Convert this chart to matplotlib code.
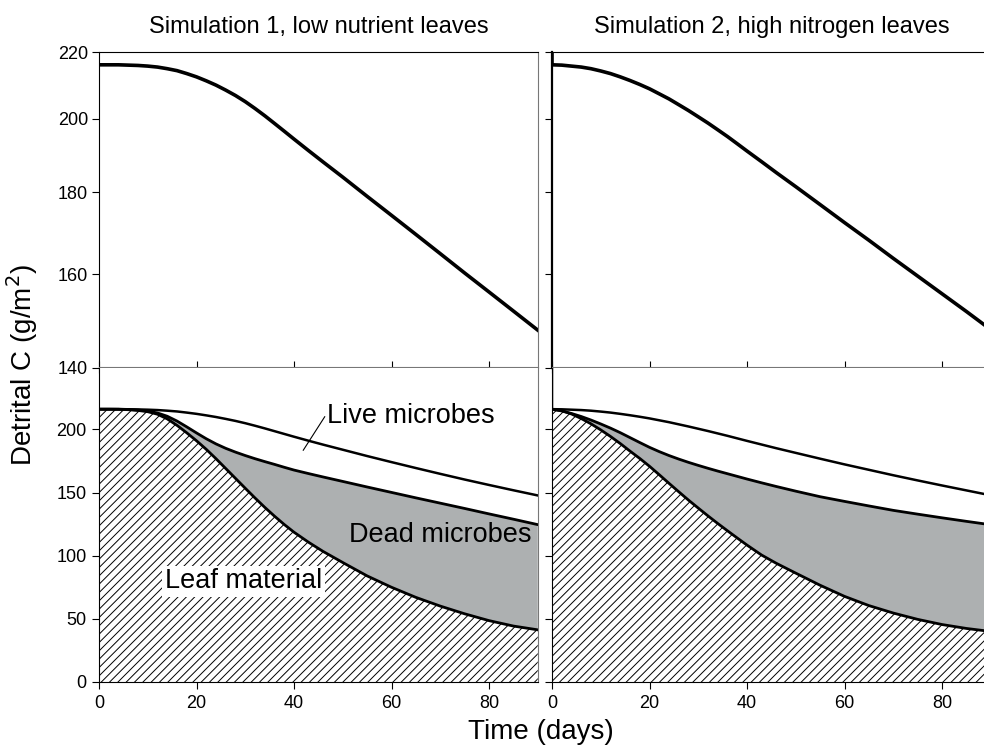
import numpy as np
import matplotlib.pyplot as plt

plt.rcParams['font.family'] = ['Liberation Sans', 'DejaVu Sans']
plt.rcParams['hatch.linewidth'] = 0.7

# --- data (days, g C / m2) ---
time = [0, 2, 4, 6, 8, 10, 12, 14, 16, 18, 20, 22, 24, 26, 28, 30, 32, 34, 36, 38, 40,
        43, 46, 50, 55, 60, 65, 70, 75, 80, 85, 90]

# simulation 1: low nutrient leaves
total1 = [216.0, 216.0, 216.0, 215.9, 215.8, 215.6, 215.3, 214.8, 214.2, 213.3, 212.3,
          211.1, 209.8, 208.3, 206.7, 204.9, 202.9, 200.8, 198.6, 196.4, 194.2,
          191.0, 187.9, 183.9, 178.9, 174.1, 169.4, 164.8, 160.3, 156.0, 151.8, 147.7]
mid1 = [216.0, 216.0, 216.0, 215.8, 215.3, 214.5, 213.0, 210.4, 206.6, 202.0, 197.2,
        192.6, 188.5, 185.0, 182.0, 179.3, 176.8, 174.5, 172.3, 170.0, 167.8,
        165.0, 162.3, 158.8, 154.4, 150.1, 145.8, 141.6, 137.4, 133.1, 128.9, 124.6]
leaf1 = [216.0, 216.0, 215.9, 215.6, 215.0, 214.0, 212.0, 208.3, 203.2, 197.3, 191.0,
         184.2, 176.8, 169.0, 161.2, 153.4, 145.7, 138.3, 131.3, 124.7, 118.6,
         110.6, 103.3, 94.6, 84.0, 75.0, 67.0, 60.1, 54.0, 48.6, 44.3, 41.3]

# simulation 2: high nitrogen leaves
total2 = [216.0, 215.9, 215.6, 215.3, 214.8, 214.1, 213.3, 212.3, 211.2, 210.0, 208.7,
          207.2, 205.7, 204.0, 202.3, 200.5, 198.7, 196.8, 194.9, 192.9, 190.9,
          188.0, 185.1, 181.4, 176.8, 172.3, 168.0, 163.7, 159.6, 155.6, 151.7, 147.8]
mid2 = [216.0, 214.6, 212.6, 210.2, 207.4, 204.3, 201.0, 197.4, 193.5, 189.6, 185.8,
        182.4, 179.3, 176.5, 173.9, 171.5, 169.2, 167.0, 164.9, 162.8, 160.7,
        157.7, 154.8, 151.1, 146.7, 143.0, 139.4, 135.9, 132.9, 130.0, 127.2, 124.5]
leaf2 = [216.0, 214.8, 212.2, 208.6, 204.4, 199.6, 194.4, 188.8, 182.8, 177.0, 170.8,
         164.1, 157.3, 150.6, 144.0, 137.7, 131.5, 125.5, 119.7, 114.0, 108.4,
         100.5, 94.0, 86.2, 76.6, 67.8, 60.5, 54.6, 49.6, 45.5, 42.4, 40.0]
start2 = 260.0  # sim 2 total jumps down from above the axis at t=0

titles = ["Simulation 1, low nutrient leaves", "Simulation 2, high nitrogen leaves"]
top_ticks = [140, 160, 180, 200, 220]
bot_ticks = [0, 50, 100, 150, 200]
x_ticks = [0, 20, 40, 60, 80]

gray = '#adb0b1'

fig = plt.figure(figsize=(9.84, 7.51), dpi=100)
W, H = 984, 751

def box(x0, y0, x1, y1):
    return [x0 / W, 1 - y1 / H, (x1 - x0) / W, (y1 - y0) / H]

lefts = [(99, 537.75), (552, 990.75)]
sims = [(total1, mid1, leaf1), (total2, mid2, leaf2)]
t = np.array(time)

for i, ((xa, xb), (tot, mid, leaf)) in enumerate(zip(lefts, sims)):
    tt, tl = t, np.array(tot)
    if i == 1:
        tt = np.r_[0, t]
        tl = np.r_[start2, tot]

    # top panel, log scale
    ax = fig.add_axes(box(xa, 52, xb, 367.5))
    ax.plot(tt, tl, color='black', lw=2.6)
    ax.set_yscale('log')
    ax.set_ylim(140, 220)
    ax.set_xlim(0, 90)
    ax.yaxis.set_minor_locator(plt.NullLocator())
    ax.set_yticks(top_ticks)
    ax.set_xticks(x_ticks)
    ax.set_xticklabels([])
    if i == 0:
        ax.set_yticklabels([str(v) for v in top_ticks])
    else:
        ax.set_yticklabels([])
        ax.spines['left'].set_linewidth(1.6)
    ax.tick_params(axis='y', direction='out', length=5, width=0.8, labelsize=13, pad=3)
    ax.tick_params(axis='x', direction='inout', length=8, width=0.8)
    ax.set_title(titles[i], fontsize=17, pad=14)
    ax.spines['right'].set_color('#777777')
    ax.spines['bottom'].set_color('#777777')

    # bottom panel, stacked pools
    ax2 = fig.add_axes(box(xa, 367.5, xb, 682))
    ax2.fill_between(t, 0, leaf, facecolor='white', hatch='////', edgecolor='black', linewidth=0)
    ax2.fill_between(t, leaf, mid, facecolor=gray, linewidth=0)
    ax2.plot(t, leaf, color='black', lw=2.0)
    ax2.plot(t, mid, color='black', lw=2.0)
    ax2.plot(tt, tl, color='black', lw=1.8)
    ax2.set_xlim(0, 90)
    ax2.set_ylim(0, 249)
    ax2.set_yticks(bot_ticks)
    ax2.set_xticks(x_ticks)
    if i == 0:
        ax2.set_yticklabels([str(v) for v in bot_ticks])
    else:
        ax2.set_yticklabels([])
    ax2.tick_params(axis='both', direction='out', length=5, width=0.8, labelsize=13, pad=4)
    ax2.spines['right'].set_color('#777777')
    ax2.spines['top'].set_visible(False)

    if i == 0:
        ax2.text(46.7, 210.6, "Live microbes", fontsize=19.5, ha='left', va='center')
        ax2.plot([41.9, 46.3], [183.5, 210.0], color='black', lw=0.8)
        ax2.text(88.8, 116.7, "Dead microbes", fontsize=19.5, ha='right', va='center')
        ax2.text(29.6, 79.6, "Leaf material", fontsize=19.5, ha='center', va='center',
                 bbox=dict(facecolor='white', edgecolor='none', pad=2))

fig.text(22 / W, 1 - 365 / H, "Detrital C (g/m$^2$)", rotation=90, fontsize=20,
         ha='center', va='center')
fig.text(541 / W, 1 - 732 / H, "Time (days)", fontsize=20, ha='center', va='center')

fig.savefig("out.png", dpi=100)
